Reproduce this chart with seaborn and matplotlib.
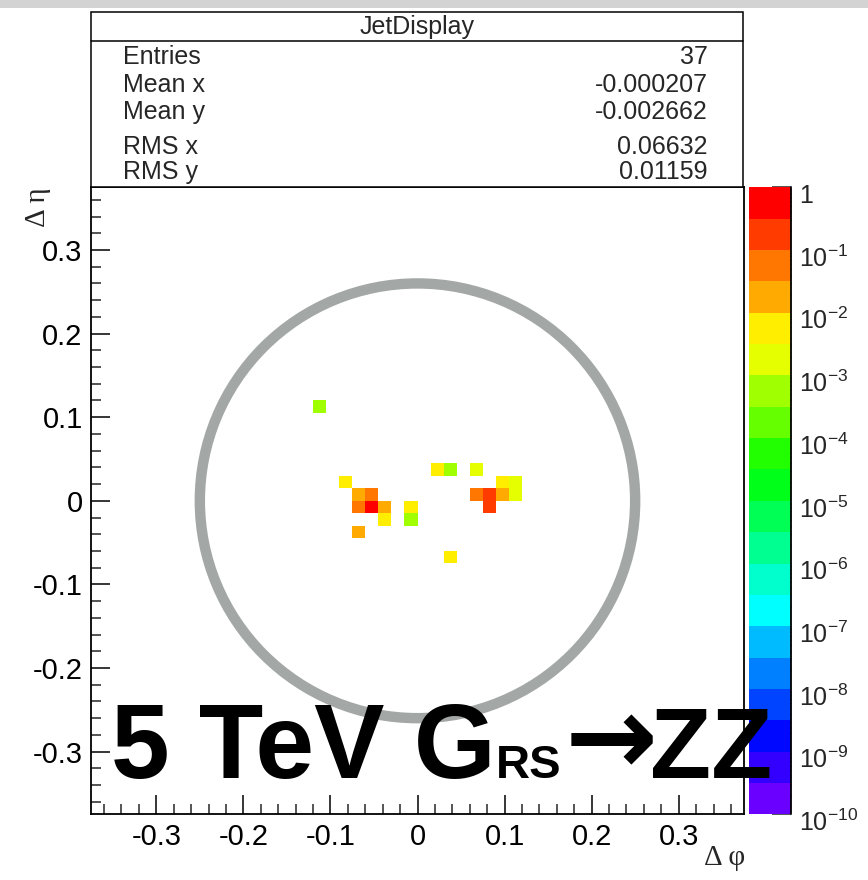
import numpy as np
import pandas as pd
import seaborn as sns
import matplotlib
matplotlib.use("Agg")
import matplotlib.pyplot as plt
from matplotlib.colors import ListedColormap, LogNorm
from matplotlib.patches import Ellipse, Rectangle
from matplotlib.lines import Line2D
from matplotlib.ticker import FixedLocator
from matplotlib.transforms import ScaledTranslation

# Tower centres (delta phi, delta eta) and energy fractions of the jet
dphi = [-0.1125, 0.0225, 0.0375, 0.0675, -0.0825, 0.0975, 0.1125,
        -0.0675, -0.0525, 0.0675, 0.0825, 0.0975, 0.1125,
        -0.0675, -0.0525, -0.0375, -0.0075, 0.0825,
        -0.0375, -0.0075, -0.0675, 0.0375]
deta = [0.1125, 0.0375, 0.0375, 0.0375, 0.0225, 0.0225, 0.0225,
        0.0075, 0.0075, 0.0075, 0.0075, 0.0075, 0.0075,
        -0.0075, -0.0075, -0.0075, -0.0075, -0.0075,
        -0.0225, -0.0225, -0.0375, -0.0675]
weight = [6e-4, 6e-3, 6e-4, 2e-3, 6e-3, 6e-3, 2e-3,
          2e-2, 6e-2, 6e-2, 2e-1, 2e-2, 2e-3,
          6e-2, 5e-1, 2e-2, 6e-3, 2e-1,
          6e-3, 6e-4, 2e-2, 6e-3]

# Statistics box contents
stat_title = "JetDisplay"
stat_names = ["Entries", "Mean x", "Mean y", "RMS x", "RMS y"]
stat_values = ["37", "-0.000207", "-0.002662", "0.06632", "0.01159"]

x_ticks = [-0.3, -0.2, -0.1, 0.0, 0.1, 0.2, 0.3]
z_exponents = list(range(0, -11, -1))

# 20-step palette, high values (red) down to low values (violet)
palette_hi_to_lo = ["#ff0000", "#ff3b00", "#ff7700", "#ffaa00", "#ffee00",
                    "#e6ff00", "#a0ff00", "#66ff00", "#22ff00", "#00ff19",
                    "#00ff55", "#00ff91", "#00ffcc", "#00ffff", "#00bbff",
                    "#0080ff", "#0044ff", "#0008ff", "#3300ff", "#6a00ff"]

sns.set_style("white")
plt.rcParams["font.family"] = ["Liberation Sans", "DejaVu Sans"]
plt.rcParams["mathtext.fontset"] = "custom"
plt.rcParams["mathtext.rm"] = "Liberation Sans"
plt.rcParams["mathtext.it"] = "Liberation Sans:italic"
plt.rcParams["mathtext.bf"] = "Liberation Sans:bold"

W, H = 868, 880
fig = plt.figure(figsize=(W / 100, H / 100), dpi=100)


def fx(px):
    return px / W


def fy(py):
    return 1 - py / H


ax_l, ax_r, ax_t, ax_b = 91, 744, 187.3, 814.3
ax = fig.add_axes([fx(ax_l), fy(ax_b), fx(ax_r - ax_l), (ax_b - ax_t) / H])

cmap = ListedColormap(palette_hi_to_lo[::-1])
norm = LogNorm(vmin=1e-10, vmax=1.0)

df = pd.DataFrame({"dphi": dphi, "deta": deta, "w": weight})
sns.histplot(data=df, x="dphi", y="deta", weights="w", bins=50,
             binrange=((-0.375, 0.375), (-0.375, 0.375)),
             cmap=cmap, cbar=False, ax=ax)
mesh = ax.collections[-1]
mesh.set_cmap(cmap)
mesh.set_norm(norm)

# Jet cone outline
ax.add_patch(Ellipse((0, 0), width=0.5, height=0.52, fill=False,
                     edgecolor="#a3a8a6", lw=7.5, zorder=3))

ax.set_xlim(-0.375, 0.375)
ax.set_ylim(-0.375, 0.375)
ax.set_xticks(x_ticks)
ax.set_yticks(x_ticks)
ax.set_xticklabels([f"{v:g}" for v in x_ticks])
ax.set_yticklabels([f"{v:g}" for v in x_ticks])
minor = [round(-0.36 + 0.02 * i, 3) for i in range(37)]
ax.xaxis.set_minor_locator(FixedLocator(minor))
ax.yaxis.set_minor_locator(FixedLocator(minor))
ax.tick_params(which="major", direction="in", length=13.7, width=1.1,
               labelsize=21, top=False, right=False, bottom=True, left=True,
               pad=6, colors="black")
ax.tick_params(which="minor", direction="in", length=7, width=1.1,
               top=False, right=False, bottom=True, left=True)
for s in ax.spines.values():
    s.set_visible(True)
    s.set_color("black")
    s.set_linewidth(1.3)
ax.set_xlabel("")
ax.set_ylabel("")

# Axis titles
fig.text(fx(745), fy(858), "Δ φ", ha="right", va="center", fontsize=21,
         family=["Liberation Serif", "DejaVu Serif"])
fig.text(fx(38), fy(187), "Δ η", ha="center", va="top", rotation=90,
         fontsize=21, family=["Liberation Serif", "DejaVu Serif"])

# Colour scale
cax = fig.add_axes([fx(749), fy(ax_b), fx(42), (ax_b - ax_t) / H])
cb = fig.colorbar(mesh, cax=cax)
cb.outline.set_visible(False)
cax.add_line(Line2D([1, 1], [0, 1], transform=cax.transAxes, color="black",
                    lw=1.3, clip_on=False))
cb.set_ticks([10.0 ** e for e in z_exponents])
cb.set_ticklabels(["1" if e == 0 else rf"$10^{{{e}}}$" for e in z_exponents])
minor_z = [m * 10.0 ** e for e in range(-10, 0) for m in range(2, 10)]
cax.yaxis.set_minor_locator(FixedLocator(minor_z))
cax.tick_params(which="major", direction="in", length=13.7, width=1.1,
                labelsize=18, right=True, left=False, pad=6)
cax.tick_params(which="minor", direction="in", length=7, width=1.0,
                right=True, left=False)
shift = ScaledTranslation(0, -6 / 100, fig.dpi_scale_trans)
for lab in cax.get_yticklabels():
    lab.set_transform(lab.get_transform() + shift)

# Statistics box
box_l, box_r, box_t, box_b, box_sep = 91, 743, 12, 187.3, 41
fig.patches.append(Rectangle((fx(box_l), fy(box_b)), fx(box_r - box_l),
                             (box_b - box_t) / H, transform=fig.transFigure,
                             facecolor="white", edgecolor="black", lw=1.1,
                             zorder=5))
fig.lines.append(Line2D([fx(box_l), fx(box_r)], [fy(box_sep), fy(box_sep)],
                        transform=fig.transFigure, color="black", lw=1.1,
                        zorder=6))
fig.text(fx((box_l + box_r) / 2), fy(27), stat_title, ha="center",
         va="center", fontsize=18, zorder=7)
row_y = [57, 85, 112, 147, 172]
for name, val, yy in zip(stat_names, stat_values, row_y):
    fig.text(fx(123), fy(yy), name, ha="left", va="center", fontsize=18,
             zorder=7)
    fig.text(fx(708), fy(yy), val, ha="right", va="center", fontsize=18,
             zorder=7)

# Grey strip along the top edge
fig.patches.append(Rectangle((0, fy(8)), 1, 8 / H, transform=fig.transFigure,
                             facecolor="#d3d3d3", edgecolor="none", zorder=1))

# Process label, laid out piece by piece
pieces = [("5 TeV G", 76, 111, 778, ["Liberation Sans"]),
          ("RS", 34, 496, 778, ["Liberation Sans"]),
          ("→", 80, 565, 774, ["DejaVu Sans"]),
          ("ZZ", 72, 650, 778, ["Liberation Sans"])]
for txt, size, left_px, base_px, fam in pieces:
    fig.text(fx(left_px), fy(base_px), txt, ha="left", va="baseline",
             fontsize=size, fontweight="bold", color="black", zorder=20,
             family=fam + ["DejaVu Sans"])

fig.savefig("out.png", dpi=100)
